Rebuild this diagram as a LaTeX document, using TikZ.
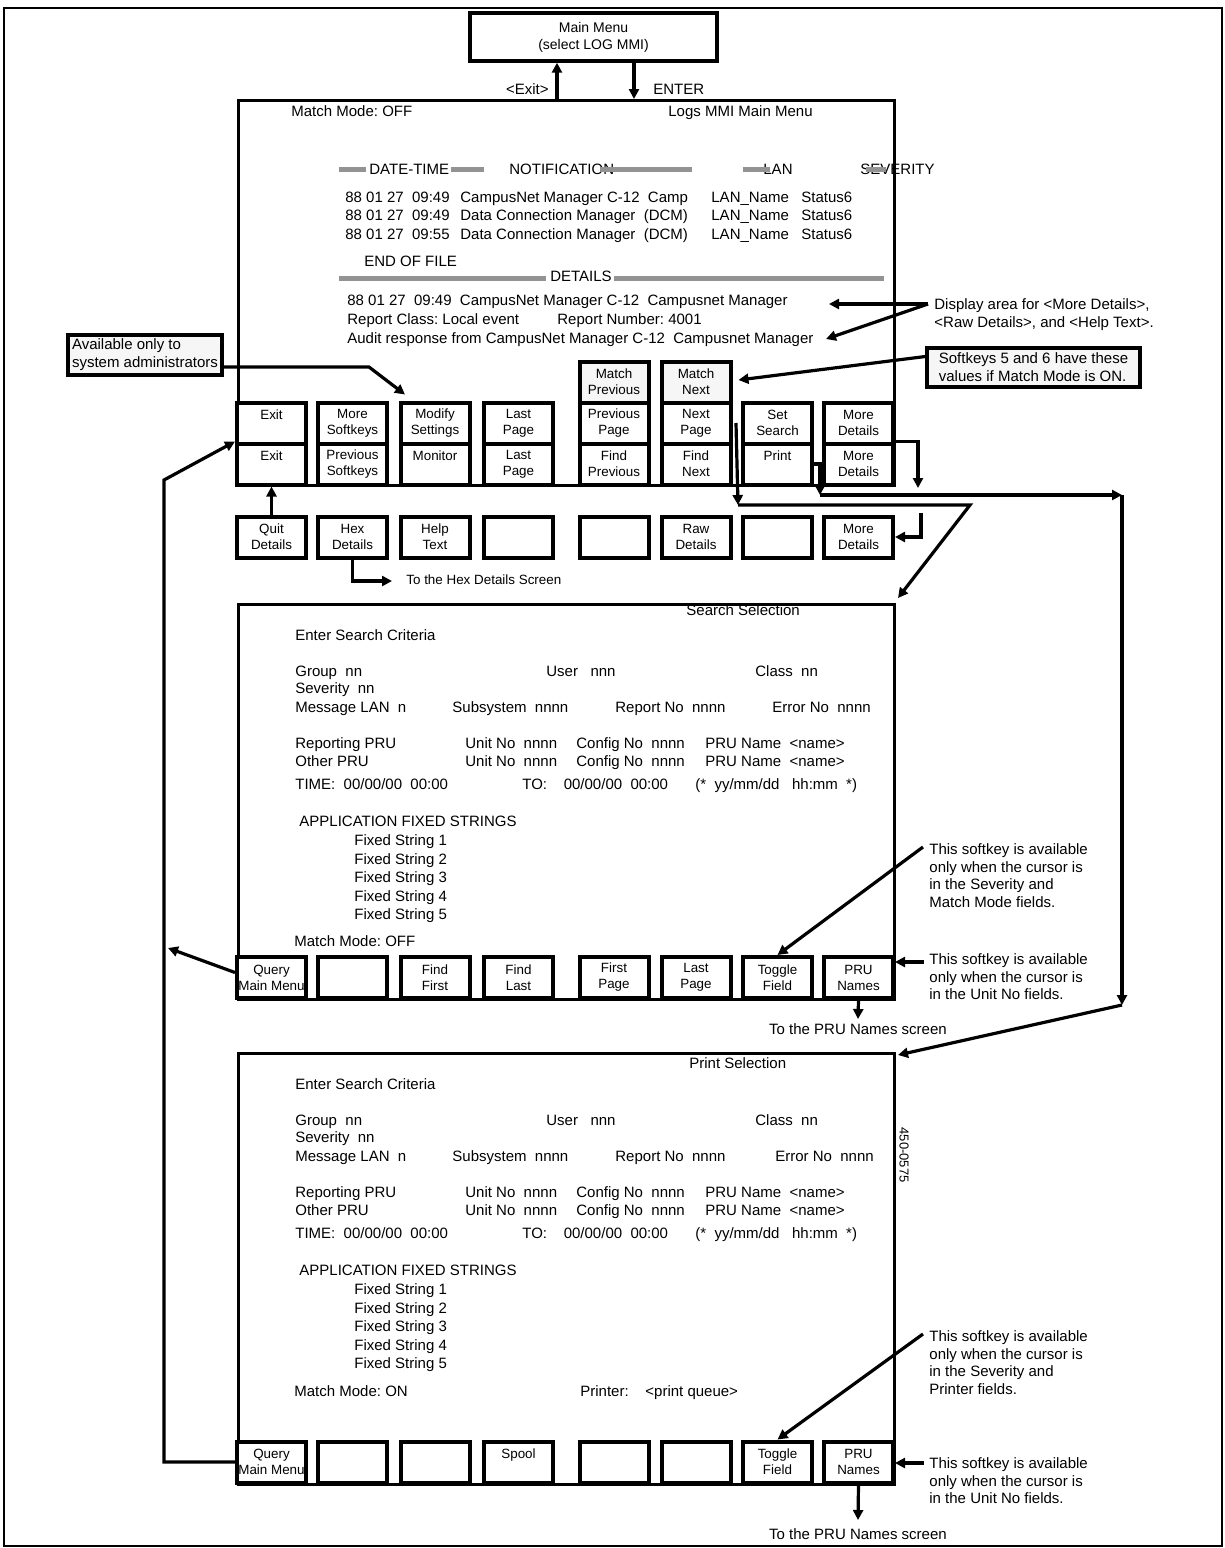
\documentclass[tikz,border=0pt]{standalone}
\usepackage{fontspec}
\setmainfont{Liberation Sans}
\usetikzlibrary{arrows.meta}
\frenchspacing
\newcommand\scrfont{\fontsize{7.5}{8.9}\selectfont}
\newcommand\keyfont{\fontsize{6.7}{8}\selectfont}
\tikzset{
  screen/.style={draw, line width=1.5pt, anchor=north west, inner sep=0pt},
  softkey/.style={draw, fill=white, line width=2pt, minimum width=34.5pt, minimum height=20.5pt,
    inner sep=0pt, align=center, font=\keyfont},
  txt/.style={anchor=west, inner sep=0pt, font=\scrfont, text height=5.4pt, text depth=1.5pt},
  notetxt/.style={anchor=north west, inner sep=0pt, align=left, font=\scrfont},
  notebox/.style={draw, fill=gray!7, line width=1.7pt, inner sep=1.5pt, align=left, font=\scrfont},
  bar/.style={line width=2.5pt, gray!85},
  arr/.style={line width=1.6pt, -{Triangle[length=5pt,width=5pt]}},
}
\begin{document}
\begin{tikzpicture}[x=0.5pt,y=-0.5pt]
  \useasboundingbox (0,0) rectangle (1225,1548);
  \draw[line width=1.2pt] (4,8) rectangle (1222,1546);

  \node[draw, line width=1.7pt, minimum width=123.5pt, minimum height=24pt, align=center,
    font=\fontsize{7}{8.5}\selectfont] (mm) at (593.5,37) {Main Menu\\(select LOG MMI)};

  \node[screen, minimum width=328pt, minimum height=192.5pt] (logs) at (237,99) {};
  \node[screen, minimum width=328pt, minimum height=197.5pt] (search) at (237,603) {};
  \node[screen, minimum width=328pt, minimum height=215.5pt] (print) at (237,1052) {};

  \coordinate (ex) at (557,99);
  \coordinate (en) at (634,99);
  \draw[arr] (ex) -- (ex |- mm.south);
  \draw[arr] (en |- mm.south) -- (en);
  \node[txt, anchor=east] (exitlbl) at (549,91) {<Exit>};
  \node[txt] (enterlbl) at (653,91) {ENTER};

  \node[txt] (mode1) at (291,113) {Match Mode: OFF};
  \node[txt] (ttl1) at (668,113) {Logs MMI Main Menu};
  \node[txt] (hdate) at (369,171) {DATE-TIME};
  \node[txt] (hnot) at (509,171) {NOTIFICATION};
  \node[txt] (hlan) at (763,171) {LAN};
  \node[txt] (hsev) at (860,171) {SEVERITY};
  \foreach \a/\b in {339/366,451/484,600/692,743/770,866/886}
    \draw[bar] (\a,169) -- (\b,169);

  \foreach \k/\y/\t/\n in {1/199/09:49/{CampusNet Manager C-12~~Camp},
                          2/217/09:49/{Data Connection Manager~~(DCM)},
                          3/236/09:55/{Data Connection Manager~~(DCM)}} {
    \node[txt] (ld\k) at (345,\y) {88 01 27~~\t};
    \node[txt] (ln\k) at (460,\y) {\n};
    \node[txt] (ll\k) at (711,\y) {LAN\_Name};
    \node[txt] (ls\k) at (801,\y) {Status6};
  }
  \node[txt] (eof) at (364,263) {END OF FILE};
  \node[txt, anchor=center] (dtl) at (581,278) {DETAILS};
  \draw[bar] (339,278) -- ([xshift=-2pt]dtl.west);
  \draw[bar] ([xshift=1pt]dtl.east) -- (884,278);
  \node[txt] (det1) at (347,302) {88 01 27~~09:49~~CampusNet Manager C-12~~Campusnet Manager};
  \node[txt] (det2) at (347,321) {Report Class: Local event};
  \node[txt] (det2b) at (557,321) {Report Number: 4001};
  \node[txt] (det3) at (347,340) {Audit response from CampusNet Manager C-12~~Campusnet Manager};

  \foreach \i/\x/\ka/\kb/\kc in {1/271.5/{Exit\\~}/{Exit\\~}/{Quit\\Details},
                               2/352.5/{More\\Softkeys}/{Previous\\Softkeys}/{Hex\\Details},
                               3/435/{Modify\\Settings}/{Monitor\\~}/{Help\\Text},
                               4/518.5/{Last\\Page}/{Last\\Page}/{~\\~},
                               5/614/{Previous\\Page}/{Find\\Previous}/{~\\~},
                               6/696/{Next\\Page}/{Find\\Next}/{Raw\\Details},
                               7/777.5/{Set\\Search}/{Print\\~}/{~\\~},
                               8/858.5/{More\\Details}/{More\\Details}/{More\\Details}} {
    \node[softkey] (m\i) at (\x,423) {\ka};
    \node[softkey] (p\i) at (\x,464) {\kb};
    \node[softkey] (d\i) at (\x,537) {\kc};
  }
  \node[softkey, fill=gray!7] (mt5) at (614,382) {Match\\Previous};
  \node[softkey, fill=gray!7] (mt6) at (696,382) {Match\\Next};

  \foreach \s/\oy/\ttl/\tx/\ty/\ex in {s/0/Search Selection/686/612/772, r/449/Print Selection/689/1065/775} {
    \node[txt] (\s-ttl) at (\tx,\ty) {\ttl};
    \node[txt] (\s-ent) at (295,637+\oy) {Enter Search Criteria};
    \node[txt] (\s-grp) at (295,673+\oy) {Group~~nn};
    \node[txt] (\s-usr) at (546,673+\oy) {User~~~nnn};
    \node[txt] (\s-cls) at (755,673+\oy) {Class~~nn};
    \node[txt] (\s-sev) at (295,690+\oy) {Severity~~nn};
    \node[txt] (\s-msg) at (295,709+\oy) {Message LAN~~n};
    \node[txt] (\s-sub) at (452,709+\oy) {Subsystem~~nnnn};
    \node[txt] (\s-rep) at (615,709+\oy) {Report No~~nnnn};
    \node[txt] (\s-err) at (\ex,709+\oy) {Error No~~nnnn};
    \foreach \k/\y/\t in {1/745/Reporting PRU, 2/763/Other PRU} {
      \node[txt] (\s-pru\k) at (295,\y+\oy) {\t};
      \node[txt] (\s-unit\k) at (465,\y+\oy) {Unit No~~nnnn};
      \node[txt] (\s-cfg\k) at (576,\y+\oy) {Config No~~nnnn};
      \node[txt] (\s-nam\k) at (705,\y+\oy) {PRU Name~~<name>};
    }
    \node[txt] (\s-tim) at (295,786+\oy) {TIME:~~00/00/00~~00:00};
    \node[txt] (\s-to) at (522,786+\oy) {TO:~~~~00/00/00~~00:00};
    \node[txt] (\s-fmt) at (695,786+\oy) {(*~~yy/mm/dd~~~hh:mm~~*)};
    \node[txt] (\s-app) at (299,823+\oy) {APPLICATION FIXED STRINGS};
    \foreach \k in {1,...,5}
      \node[txt] (\s-fix\k) at (354,823+18.6*\k+\oy) {Fixed String \k};
  }
  \node[txt] (s-mode) at (294,943) {Match Mode: OFF};
  \node[txt] (r-mode) at (294,1393) {Match Mode: ON};
  \node[txt] (r-prn) at (580,1393) {Printer:~~~~<print queue>};
  \node[rotate=-90, inner sep=0pt, font=\fontsize{6.5}{8}\selectfont] (docid) at (904,1155) {450-0575};

  \foreach \i/\x/\ka/\kb in {1/271.5/{Query\\Main Menu}/{Query\\Main Menu},
                           2/352.5/{~\\~}/{~\\~},
                           3/435/{Find\\First}/{~\\~},
                           4/518.5/{Find\\Last}/{Spool\\~},
                           5/614/{First\\Page}/{~\\~},
                           6/696/{Last\\Page}/{~\\~},
                           7/777.5/{Toggle\\Field}/{Toggle\\Field},
                           8/858.5/{PRU\\Names}/{PRU\\Names}} {
    \node[softkey] (s\i) at (\x,977.5) {\ka};
    \node[softkey] (r\i) at (\x,1462) {\kb};
  }

  \node[notebox, minimum width=77pt, minimum height=20pt] (admin) at (145,355)
    {Available only to\\system administrators};
  \coordinate (ad1) at (369,367);
  \draw[arr] (admin.east |- ad1) -- (ad1) -- ([xshift=-15pt,yshift=3pt]m3.north);

  \node[notetxt] (danote) at (934,298) {Display area for <More Details>,\\<Raw Details>, and <Help Text>.};
  \coordinate (da) at (928,304);
  \coordinate (da1) at (829,304);
  \coordinate (da2) at (826,339);
  \draw[arr] (da) -- (da1);
  \draw[arr] (da) -- (da2);

  \node[notebox, minimum width=106.5pt, minimum height=19.5pt] (skn) at (1033.5,367.5)
    {Softkeys 5 and 6 have these\\values if Match Mode is ON.};
  \draw[arr] ([yshift=5.5pt]skn.west) -- ([xshift=3pt,yshift=1pt]mt6.east);

  \draw[arr] (d1.north) -- (p1.south);
  \node[txt, font=\keyfont] (hexnote) at (406,581) {To the Hex Details Screen};
  \draw[arr] (d2.south) |- ([xshift=-7pt]hexnote.west);

  \coordinate (ss1) at (738,505);
  \coordinate (ss2) at (970,505);
  \draw[arr] ([xshift=-2.5pt]m7.west) -- (ss1);
  \draw[arr] (ss1) -- (ss2) -- ([shift={(1pt,2.5pt)}]search.north east);

  \coordinate (pr1) at (820,495);
  \coordinate (pr2) at (1122,495);
  \coordinate (pr3) at (1122,1005);
  \draw[arr] (p7.east) -| (pr1);
  \draw[arr] (pr1) -- (pr2);
  \draw[arr] (pr2) -- (pr3);
  \draw[arr] (pr3) -- ([shift={(1pt,-1.5pt)}]print.north east);

  \coordinate (md1) at (918,488);
  \coordinate (md2) at (921,513);
  \draw[arr] (p8.north east) -| (md1);
  \draw[arr] (md2) |- (d8.east);

  \coordinate (lp) at (164,480);
  \draw[arr] (r1.west) -| (lp) -- (p1.north west);
  \coordinate (lq) at (168,948);
  \draw[arr] ([yshift=2.5pt]s1.west) -- (lq);

  \node[txt, anchor=north] (s-prun) at (858,1023) {To the PRU Names screen};
  \draw[arr] (s8.south) -- ([yshift=2pt]s-prun.north);
  \node[txt, anchor=north] (r-prun) at (858,1528) {To the PRU Names screen};
  \draw[arr] (r8.south) -- ([yshift=4pt]r-prun.north);

  \node[notetxt] (s-tnote) at (929,843) {This softkey is available\\only when the cursor is\\in the Severity and\\Match Mode fields.};
  \coordinate (tg1) at (923,847);
  \draw[arr] (tg1) -- (s7.north);
  \node[notetxt] (r-tnote) at (929,1330) {This softkey is available\\only when the cursor is\\in the Severity and\\Printer fields.};
  \coordinate (tg2) at (923,1334);
  \draw[arr] (tg2) -- (r7.north);

  \node[notetxt] (s-unote) at (929,953) {This softkey is available\\only when the cursor is\\in the Unit No fields.};
  \coordinate (un1) at (924,962);
  \draw[arr] (un1) -- (un1 -| s8.east);
  \node[notetxt] (r-unote) at (929,1457) {This softkey is available\\only when the cursor is\\in the Unit No fields.};
  \coordinate (un2) at (924,1463);
  \draw[arr] (un2) -- (un2 -| r8.east);
\end{tikzpicture}
\end{document}
